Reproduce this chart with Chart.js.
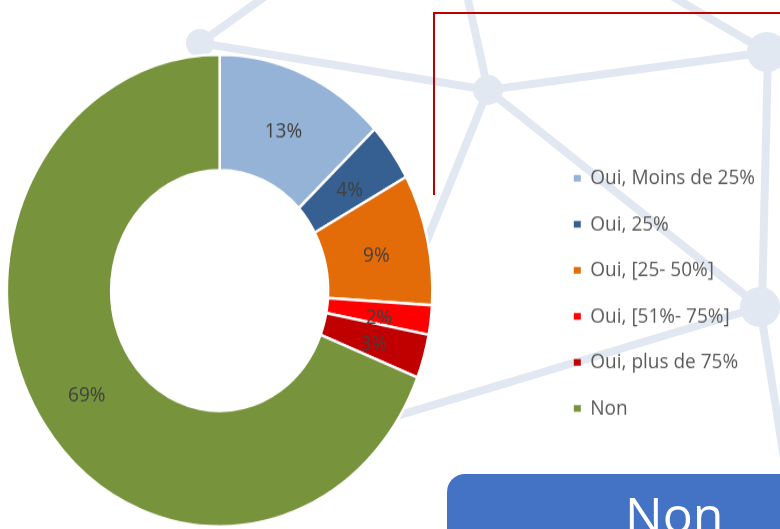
<!DOCTYPE html>
<html>
<head>
<meta charset="utf-8">
<script src="https://cdn.jsdelivr.net/npm/chart.js@4"></script>
<style>
  html, body { margin: 0; padding: 0; background: #fff; }
  body { width: 780px; height: 529px; position: relative; overflow: hidden; font-family: "Open Sans", sans-serif; }
  #bg { position: absolute; left: 0; top: 0; }
  #frame { position: absolute; left: 433px; top: 12px; width: 360px; height: 181px;
           border-top: 2px solid #c00000; border-left: 2px solid #c00000; }
  #wrap { position: absolute; left: -112px; top: 0; width: 890px; height: 477px;
          transform: scaleY(1.109); transform-origin: 0 0; }
  #box { position: absolute; left: 447px; top: 474px; width: 380px; height: 100px;
         background: #4472c4; border-radius: 18px; }
  #boxText { position: absolute; left: 625px; top: 489px; font-size: 50px; line-height: 50px; color: #fff; }
</style>
</head>
<body>
<svg id="bg" width="780" height="529">
  <g stroke="#e1e8f2" stroke-width="8" stroke-linecap="round" fill="none">
    <line x1="267" y1="-5" x2="200" y2="43"/>
    <line x1="200" y1="43" x2="488" y2="90"/>
    <line x1="467" y1="-5" x2="488" y2="90"/>
    <line x1="488" y1="90" x2="767" y2="52"/>
    <line x1="670" y1="-5" x2="767" y2="52"/>
    <line x1="768" y1="52" x2="762" y2="307"/>
    <line x1="488" y1="90" x2="760" y2="307"/>
    <line x1="488" y1="90" x2="350" y2="430"/>
    <line x1="760" y1="307" x2="300" y2="445"/>
    <line x1="760" y1="307" x2="800" y2="560"/>
  </g>
  <g fill="#e1e8f2">
    <circle cx="200" cy="43" r="14"/>
    <circle cx="488" cy="90" r="15"/>
    <circle cx="767" cy="52" r="20"/>
    <circle cx="760" cy="307" r="20"/>
  </g>
</svg>
<div id="frame"></div>
<div id="wrap"><canvas id="chart" width="890" height="477" style="width:890px;height:477px"></canvas></div>
<div id="box"></div>
<div id="boxText">Non</div>
<script>
const labels = ['Oui, Moins de 25%', 'Oui, 25%', 'Oui, [25- 50%]', 'Oui, [51%- 75%]', 'Oui, plus de 75%', 'Non']
const values = [13, 4, 9, 2, 3, 69]
const colors = ['#95b3d7', '#366092', '#e36c09', '#ff0000', '#c00000', '#77933c']

// percentage labels in the middle of each ring segment
const pctLabels = {
  id: 'pctLabels',
  afterDatasetsDraw(chart) {
    const ctx = chart.ctx
    const meta = chart.getDatasetMeta(0)
    ctx.save()
    ctx.font = '19px "Open Sans"'
    ctx.fillStyle = '#404040'
    ctx.textAlign = 'center'
    ctx.textBaseline = 'middle'
    meta.data.forEach((arc, i) => {
      const p = arc.tooltipPosition(true)
      ctx.fillText(values[i] + '%', p.x, p.y + 4)
    })
    ctx.restore()
  }
}

new Chart(document.getElementById('chart'), {
  type: 'doughnut',
  data: {
    labels: labels,
    datasets: [{
      data: values,
      backgroundColor: colors,
      borderColor: '#ffffff',
      borderWidth: 2.5,
      hoverOffset: 0
    }]
  },
  options: {
    responsive: false,
    devicePixelRatio: 1,
    animation: false,
    cutout: '51%',
    layout: { padding: { top: 48, bottom: 1, left: 0, right: 13 } },
    plugins: {
      tooltip: { enabled: false },
      legend: {
        position: 'right',
        title: { display: true, text: ' ', font: { size: 4 }, padding: 0 },
        labels: {
          boxWidth: 7,
          boxHeight: 6,
          padding: 22.5,
          color: '#595959',
          font: { family: 'Open Sans', size: 19 },
          generateLabels: () => labels.map((t, i) => ({
            text: t,
            fillStyle: colors[i],
            strokeStyle: colors[i],
            lineWidth: 0,
            fontColor: '#595959',
            hidden: false,
            index: i
          }))
        }
      }
    }
  },
  plugins: [pctLabels]
})
</script>
</body>
</html>
